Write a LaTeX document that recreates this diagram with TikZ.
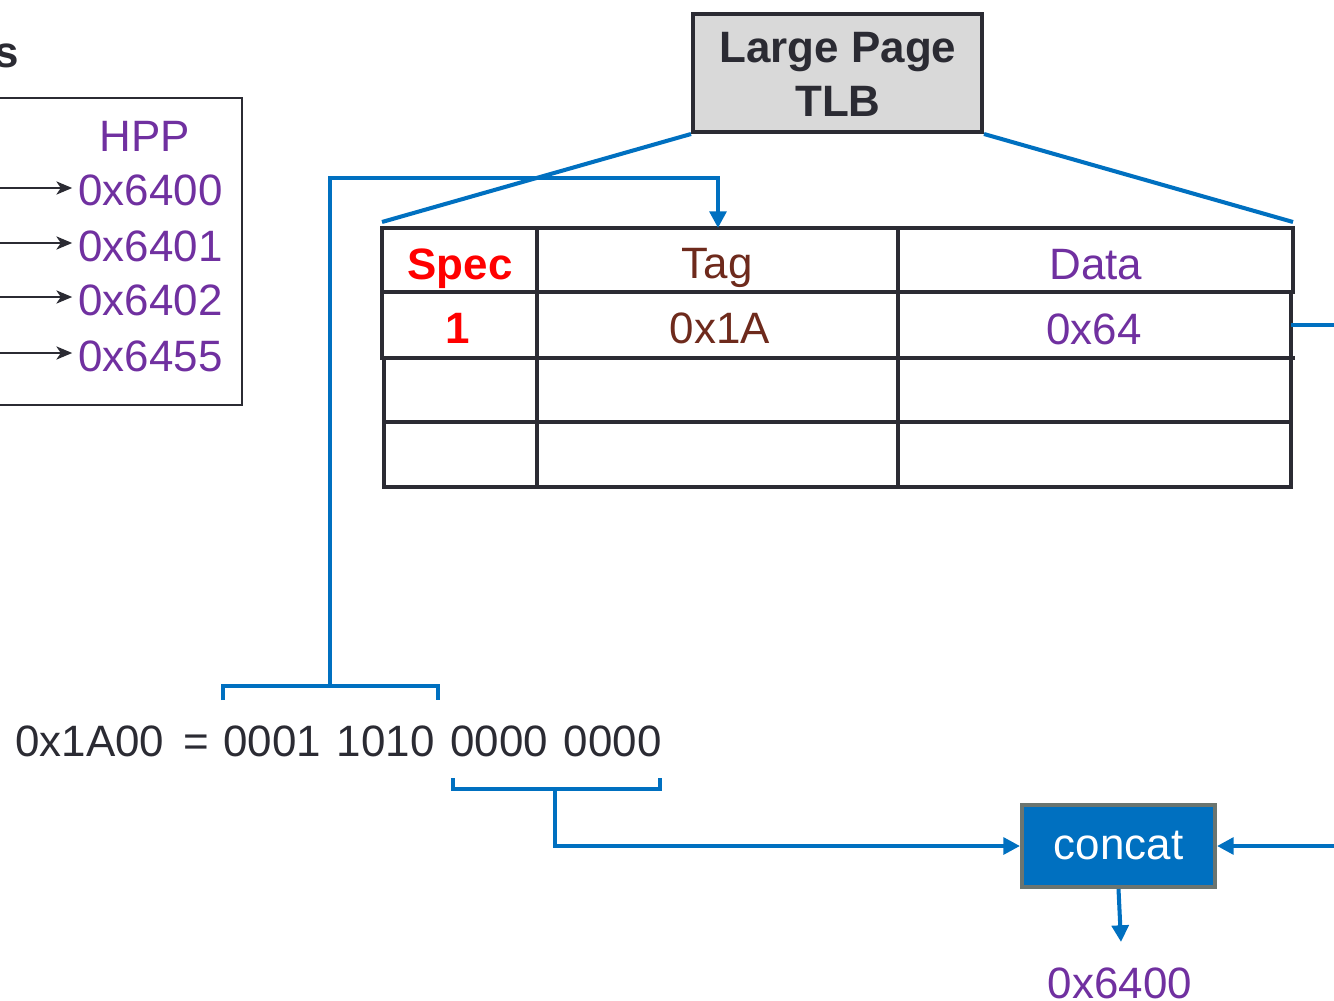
\documentclass[tikz,border=0pt]{standalone}
\usepackage{fontspec}
\setmainfont{Liberation Sans}
\usetikzlibrary{arrows.meta}
\definecolor{blu}{HTML}{0070C0}
\definecolor{ink}{HTML}{2B2B33}
\definecolor{purp}{HTML}{7030A0}
\definecolor{brn}{HTML}{6E2A1C}
\definecolor{redc}{HTML}{FF0000}
\definecolor{lgray}{HTML}{D9D9D9}
\definecolor{bgray}{HTML}{6B7570}
\begin{document}
\begin{tikzpicture}[x=0.02cm,y=-0.02cm,
  txt/.style={inner sep=0pt,font=\fontsize{25}{30}\selectfont},
  btxt/.style={inner sep=0pt,font=\bfseries\fontsize{25}{30}\selectfont},
  grid/.style={draw=ink,line width=2.4pt,line cap=rect},
  bluline/.style={draw=blu,line width=2.3pt},
  bluarrow/.style={draw=blu,line width=2.3pt,-{Triangle[length=9.5pt,width=9.5pt]}},
  blkarrow/.style={draw=ink,line width=1pt,shorten >=3.3pt,-{Stealth[length=9pt,width=7.5pt,inset=2.5pt]}}]
\useasboundingbox (0,0) rectangle (1334,1000);

% left partial title and HPP box
\node[btxt,text=ink,anchor=base east] (title) at (19,68) {s};
\draw[ink,line width=1.2pt] (-10,98) rectangle (242,405);
\node[txt,text=purp,anchor=base] (hpp) at (145,152) {HPP};
\node[txt,text=purp,anchor=base west] (h0) at (78,206) {0x6400};
\node[txt,text=purp,anchor=base west] (h1) at (78,261) {0x6401};
\node[txt,text=purp,anchor=base west] (h2) at (78,315) {0x6402};
\node[txt,text=purp,anchor=base west] (h3) at (78,371) {0x6455};
\coordinate (s0) at (-5,188);
\coordinate (s1) at (-5,243);
\coordinate (s2) at (-5,297);
\coordinate (s3) at (-5,353);
\draw[blkarrow] (s0) -- (s0 -| h0.west);
\draw[blkarrow] (s1) -- (s1 -| h1.west);
\draw[blkarrow] (s2) -- (s2 -| h2.west);
\draw[blkarrow] (s3) -- (s3 -| h3.west);

% Large Page TLB
\node[draw=ink,fill=lgray,line width=2.3pt,minimum width=5.78cm,minimum height=2.36cm,
      inner sep=0pt] (tlb) at (837.5,73) {};
\node[btxt,text=ink,align=center,font=\bfseries\fontsize{25}{30.7}\selectfont] (tlbtxt) at (838,74.5) {Large Page\\TLB};

% table
\coordinate (tl) at (382,228);
\coordinate (tr) at (1293,228);
\draw[grid] (382,228) -- (1293,228);
\draw[grid] (382,292) -- (1293,292);
\draw[grid] (382,358) -- (1293,358);
\draw[grid] (384,422) -- (1291,422);
\draw[grid] (384,487) -- (1291,487);
\draw[grid] (382,228) -- (382,358);
\draw[grid] (384,358) -- (384,487);
\draw[grid] (537,228) -- (537,487);
\draw[grid] (898,228) -- (898,487);
\draw[grid] (1293,228) -- (1293,292);
\draw[grid] (1291,292) -- (1291,487);

\node[btxt,text=redc,anchor=base] (spec) at (460,279) {Spec};
\node[txt,text=brn,anchor=base] (tag) at (717,278) {Tag};
\node[txt,text=purp,anchor=base] (data) at (1096,279) {Data};
\node[btxt,text=redc,anchor=base] (one) at (458,343) {1};
\node[txt,text=brn,anchor=base] (t1a) at (720,343) {0x1A};
\node[txt,text=purp,anchor=base] (d64) at (1094,344) {0x64};

% TLB fan lines
\coordinate (fl) at (382,222);
\coordinate (fr) at (1293,222);
\draw[bluline] (tlb.south west) -- (fl);
\draw[bluline] (tlb.south east) -- (fr);

% data output line to the right
\coordinate (dout) at (1291,325);
\coordinate (doff) at (1345,325);
\draw[bluline] (dout) -- (doff);

% binary address
\node[txt,text=ink,anchor=base west] (bin) at (15,756)
  {0x1A00\hspace{11pt}=\hspace{8pt}0001\hspace{9pt}1010\hspace{9pt}0000\hspace{9pt}0000};

% upper bracket -> Tag
\draw[bluline] (223,700) -- (223,686) -- (438,686) -- (438,700);
\coordinate (ub) at (330,686);
\coordinate (tagtop) at (718,228);
\draw[bluarrow] (ub) -- (330,178) -- (718,178) -- (tagtop);

% concat
\node[fill=blu,draw=bgray,line width=2.3pt,minimum width=3.86cm,minimum height=1.64cm,
      inner sep=0pt,txt,text=white] (concat) at (1118.5,846) {concat};

% lower bracket -> concat
\draw[bluline] (453,778) -- (453,789) -- (660,789) -- (660,778);
\coordinate (lb) at (555,789);
\draw[bluarrow] (lb) -- (555,846) -- (concat.west);

% right input
\coordinate (rin) at (1345,846);
\draw[bluarrow] (rin) -- (concat.east);

% output
\node[txt,text=purp,anchor=base] (out) at (1120,998) {0x6400};
\draw[bluarrow] (concat.south) -- (1121,942);
\end{tikzpicture}
\end{document}
